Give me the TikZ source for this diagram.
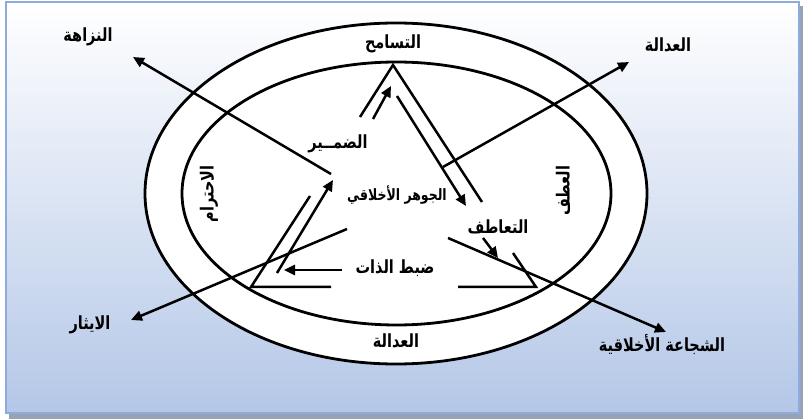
\documentclass[tikz,border=0pt]{standalone}
\usepackage{fontspec}
\newfontfamily\arabicfont[Script=Arabic]{DejaVu Sans}
\TeXXeTstate=1
\usetikzlibrary{arrows.meta}
\definecolor{bgbot}{RGB}{180,199,231}
\definecolor{bgmid}{RGB}{226,233,246}
\definecolor{bordc}{RGB}{143,170,220}
\definecolor{shadc}{RGB}{150,162,182}
\newcommand{\artxt}[1]{\scalebox{1}[1.25]{\beginR #1\endR}}
\begin{document}
\begin{tikzpicture}[x=1pt,y=-1pt,
  ln/.style={line width=2.5pt,black},
  arr/.style={ln,-{Triangle[length=11pt,width=10pt]}},
  ring/.style={line width=2.8pt,draw=black,fill=white},
  lbl/.style={font=\arabicfont\bfseries\fontsize{14.5}{16}\selectfont,inner sep=0pt},
  lbls/.style={font=\arabicfont\bfseries\fontsize{12.5}{14}\selectfont,inner sep=0pt},
]
\useasboundingbox (0,0) rectangle (805,419);
\fill[white] (0,0) rectangle (805,419);
\fill[shadc] (9,6) rectangle (803,419);
\shade[top color=white,middle color=bgmid,bottom color=bgbot] (6,2) rectangle (799,413);
\draw[bordc,line width=1.2pt] (6,2) rectangle (799,413);

% rings
\draw[ring] (396,193.5) ellipse [x radius=251pt,y radius=170.5pt];
\draw[ring] (396.5,193.5) ellipse [x radius=214.5pt,y radius=131.5pt];

% triangle coordinates
\coordinate (A) at (393,65);
\coordinate (Lt) at (360,117);
\coordinate (Ls) at (373,119);
\coordinate (Le) at (391,86);
\coordinate (Rs) at (397,96);
\coordinate (Re) at (466,206);
\coordinate (Rb) at (482,202);
\coordinate (BL) at (251,287);
\coordinate (Lb) at (310,196);
\coordinate (LAs) at (277,273);
\coordinate (LAe) at (333,180);
\coordinate (B1) at (331,287);
\coordinate (B2) at (458,287);
\coordinate (BR) at (536,287);
\coordinate (Rl) at (513,253);
\coordinate (Hs) at (342,270);
\coordinate (He) at (284,270);
\coordinate (Ss) at (483,238);
\coordinate (Se) at (498,258);
% long arrows
\coordinate (nwS) at (331,174);
\coordinate (nwE) at (133,57);
\coordinate (neS) at (443,167);
\coordinate (neE) at (629,62);
\coordinate (swS) at (347,229);
\coordinate (swE) at (131,320);
\coordinate (seS) at (448,238);
\coordinate (seE) at (666,332);

% triangle
\draw[ln] (Lt) -- (A) -- (Rb);
\draw[arr] (Ls) -- (Le);
\draw[arr] (Rs) -- (Re);
\draw[ln] (Lb) -- (BL) -- (B1);
\draw[arr] (LAs) -- (LAe);
\draw[ln] (B2) -- (BR) -- (Rl);
\draw[arr] (Hs) -- (He);
\draw[arr] (Ss) -- (Se);

% long arrows
\draw[arr] (nwS) -- (nwE);
\draw[arr] (neS) -- (neE);
\draw[arr] (swS) -- (swE);
\draw[arr] (seS) -- (seE);

% labels
\node[lbl] (naz) at (88,37) {\artxt{النزاهة}};
\node[lbl] (adl1) at (668,45) {\artxt{العدالة}};
\node[lbl] (tas) at (393,44) {\artxt{التسامح}};
\node[lbl] (dam) at (338,144) {\artxt{الضمــير}};
\node[lbls] (jaw) at (397,195) {\artxt{الجوهر الأخلاقي}};
\node[lbl] (taa) at (498,227) {\artxt{التعاطف}};
\node[lbl] (dab) at (395,268) {\artxt{ضبط الذات}};
\node[lbl] (adl2) at (396,341) {\artxt{العدالة}};
\node[lbl] (ith) at (90,325) {\artxt{الايثار}};
\node[lbl] (shj) at (662,345) {\artxt{الشجاعة الأخلاقية}};
\node[lbl,rotate=90] (ihtr) at (209,194) {\artxt{الاحترام}};
\node[lbl,rotate=90] (atf) at (563,191) {\artxt{العطف}};
\end{tikzpicture}
\end{document}
